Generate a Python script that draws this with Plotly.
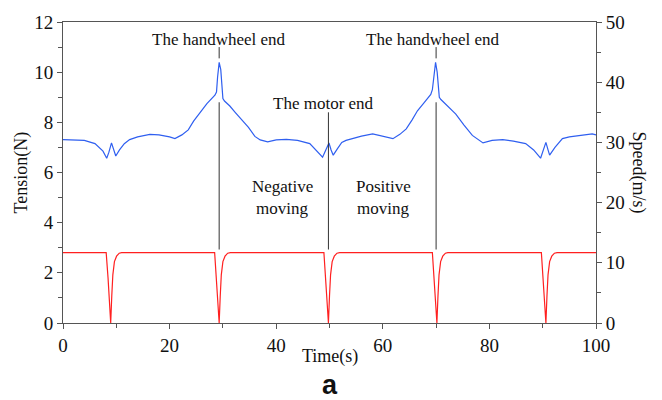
import plotly.graph_objects as go

# Tension (N), left axis
tension_t = [0, 2, 4, 6, 7.5, 8.2, 8.6, 9.1, 9.5, 9.9, 10.6, 11.5, 12.5, 14, 16.3, 18, 20, 21, 22.3,
             23.5, 24.5, 25.7, 27, 28.5, 28.8, 29.0, 29.3, 29.6, 30.0, 30.3, 31.3, 32.3, 33.5, 34.8,
             36.0, 37, 38.4, 40, 41.9, 44, 46.3, 47.5, 48.7, 49.2, 49.9, 50.3, 50.7, 51.5, 52.3, 53.1,
             54.3, 56, 58.1, 60, 61.9, 63.2, 64.4, 65.5, 66.5, 67.8, 69.0, 69.3, 69.6, 69.9, 70.2,
             70.6, 70.9, 72.3, 73.7, 75.2, 76.8, 78.8, 80.5, 82.5, 84.5, 86.8, 88.3, 89.6, 90.1, 90.6,
             91.0, 91.3, 92.3, 93.7, 95, 96.8, 98, 99.3, 100]
tension_n = [7.31, 7.30, 7.28, 7.15, 6.85, 6.57, 6.8, 7.18, 6.9, 6.66, 6.9, 7.15, 7.31, 7.42, 7.52, 7.50,
             7.42, 7.35, 7.5, 7.70, 8.05, 8.40, 8.75, 9.08, 9.21, 9.8, 10.39, 10.1, 8.95, 8.85, 8.65,
             8.4, 8.13, 7.8, 7.44, 7.3, 7.22, 7.3, 7.32, 7.28, 7.15, 6.9, 6.61, 6.85, 7.18, 6.9, 6.69,
             6.95, 7.2, 7.28, 7.35, 7.45, 7.54, 7.45, 7.35, 7.52, 7.74, 8.1, 8.46, 8.8, 9.11, 9.3, 10.0,
             10.39, 10.0, 9.0, 8.91, 8.62, 8.33, 7.9, 7.48, 7.18, 7.28, 7.31, 7.25, 7.15, 6.9, 6.57,
             6.85, 7.2, 6.9, 6.69, 7.0, 7.35, 7.42, 7.48, 7.5, 7.54, 7.5]

# Speed (m/s), right axis
speed_t = [0, 8.1, 8.45, 8.75, 8.95, 9.15, 9.35, 9.65, 10.05, 10.55, 11.0,
           28.45, 28.8, 29.1, 29.3, 29.5, 29.7, 30.0, 30.4, 30.9, 31.4,
           48.95, 49.3, 49.6, 49.8, 50.0, 50.2, 50.5, 50.9, 51.4, 51.9,
           69.3, 69.65, 69.95, 70.15, 70.35, 70.55, 70.85, 71.25, 71.75, 72.2,
           89.75, 90.1, 90.4, 90.6, 90.8, 91.0, 91.3, 91.7, 92.2, 92.7, 100]
speed_v = [11.7, 11.7, 7.5, 3.5, 0, 4.5, 8.0, 10.2, 11.1, 11.6, 11.7,
           11.7, 7.5, 3.5, 0, 4.5, 8.0, 10.2, 11.1, 11.6, 11.7,
           11.7, 7.5, 3.5, 0, 4.5, 8.0, 10.2, 11.1, 11.6, 11.7,
           11.7, 7.5, 3.5, 0, 4.5, 8.0, 10.2, 11.1, 11.6, 11.7,
           11.7, 7.5, 3.5, 0, 4.5, 8.0, 10.2, 11.1, 11.6, 11.7, 11.7]

# Marker lines (time, top N, bottom N)
marker_times = [29.3, 49.8, 70.0]
long_top = [8.8, 8.4, 8.8]
long_bottom = [2.93, 2.93, 2.93]
short_times = [29.3, 70.0]
short_top = [11.0, 11.0]
short_bottom = [10.55, 10.55]

FONT = "Liberation Serif"
AX = "#555555"

fig = go.Figure()
fig.add_trace(go.Scatter(x=tension_t, y=tension_n, mode="lines",
                         line=dict(color="#2f5ff0", width=1.2), yaxis="y", showlegend=False))
fig.add_trace(go.Scatter(x=speed_t, y=speed_v, mode="lines",
                         line=dict(color="#ff2020", width=1.2), yaxis="y2", showlegend=False))

for t, a, b in zip(marker_times, long_top, long_bottom):
    fig.add_shape(type="line", xref="x", yref="y", x0=t, x1=t, y0=b, y1=a,
                  line=dict(color="#333333", width=1))
for t, a, b in zip(short_times, short_top, short_bottom):
    fig.add_shape(type="line", xref="x", yref="y", x0=t, x1=t, y0=b, y1=a,
                  line=dict(color="#333333", width=1))

def ann(x, y, text, size=17, xref="x", yref="y", angle=0, fam=FONT, bold=False):
    fig.add_annotation(x=x, y=y, xref=xref, yref=yref, text=("<b>%s</b>" % text) if bold else text,
                       showarrow=False, textangle=angle, xanchor="center", yanchor="middle",
                       font=dict(family=fam, size=size, color="#111111"))

ann(29.3, 11.3, "The handwheel end")
ann(69.4, 11.3, "The handwheel end")
ann(48.8, 8.76, "The motor end")
ann(41.1, 5.43, "Negative")
ann(41.1, 4.57, "moving")
ann(60.1, 5.43, "Positive")
ann(60.1, 4.57, "moving")
ann(0.5, -0.111, "Time(s)", size=18, xref="paper", yref="paper")
ann(-0.077, 0.5, "Tension(N)", size=18, xref="paper", yref="paper", angle=-90)
ann(1.079, 0.5, "Speed(m/s)", size=18, xref="paper", yref="paper", angle=90)
ann(0.5, -0.205, "a", size=27, xref="paper", yref="paper", fam="Liberation Sans", bold=True)

tickfont = dict(family=FONT, size=19, color="#111111")
fig.update_layout(
    width=662, height=400,
    margin=dict(l=63, r=66, t=15, b=77),
    paper_bgcolor="white", plot_bgcolor="white",
    xaxis=dict(range=[0, 100], tickvals=[0, 20, 40, 60, 80, 100], ticks="outside", ticklen=5,
               tickcolor=AX, showline=True, linecolor=AX, linewidth=1, mirror=True,
               showgrid=False, zeroline=False, tickfont=tickfont,
               minor=dict(tickvals=[10, 30, 50, 70, 90], ticks="outside", ticklen=4, tickcolor=AX)),
    yaxis=dict(range=[0, 12], tickvals=[0, 2, 4, 6, 8, 10, 12], ticks="outside", ticklen=5,
               tickcolor=AX, showline=True, linecolor=AX, linewidth=1,
               showgrid=False, zeroline=False, tickfont=tickfont,
               minor=dict(tickvals=[1, 3, 5, 7, 9, 11], ticks="outside", ticklen=4, tickcolor=AX)),
    yaxis2=dict(range=[0, 50], tickvals=[0, 10, 20, 30, 40, 50], ticks="outside", ticklen=5,
                tickcolor=AX, showline=True, linecolor=AX, linewidth=1, overlaying="y", side="right",
                showgrid=False, zeroline=False, tickfont=tickfont,
                minor=dict(tickvals=[5, 15, 25, 35, 45], ticks="outside", ticklen=4, tickcolor=AX)),
)

fig.write_html("out.html")
